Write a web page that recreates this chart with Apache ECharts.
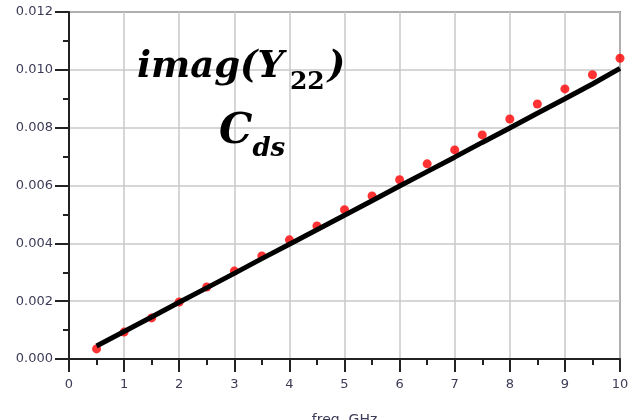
<!DOCTYPE html>
<html><head><meta charset="utf-8">
<script src="https://cdn.jsdelivr.net/npm/echarts@6/dist/echarts.min.js"></script>
<style>html,body{margin:0;padding:0;background:#fff}#c{width:630px;height:420px}</style>
</head><body><div id="c"></div>
<script>
var freq = [0.5,1,1.5,2,2.5,3,3.5,4,4.5,5,5.5,6,6.5,7,7.5,8,8.5,9,9.5,10];
var measured = [0.00035,0.00093,0.00142,0.00197,0.00249,0.00304,0.00356,0.00412,0.0046,0.00516,0.00564,0.0062,0.00675,0.00723,0.00775,0.0083,0.00882,0.00934,0.00983,0.0104];
var model = [0.00045,0.00095,0.00145,0.00196,0.00246,0.00296,0.00347,0.00397,0.00447,0.00497,0.00547,0.00598,0.00648,0.00698,0.00749,0.00799,0.00850,0.00900,0.00951,0.01005];
var xTicks = [0,1,2,3,4,5,6,7,8,9,10];
var yTicks = ['0.000','0.002','0.004','0.006','0.008','0.010','0.012'];

var chart = echarts.init(document.getElementById('c'));
var lblColor = '#3c3c58';
var serif = 'DejaVu Serif';
chart.setOption({
  animation:false,
  grid:{left:69,right:10,top:12,bottom:61,show:true,borderColor:'#333',borderWidth:1.5,backgroundColor:'#fff',containLabel:false,outerBoundsMode:'none'},
  title:[{
    left:132, top:44,
    text:'{a|imag(Y}{b|22}{a|)}',
    textStyle:{rich:{
      a:{fontFamily:serif,fontStyle:'italic',fontWeight:'bold',fontSize:37,color:'#000',verticalAlign:'bottom'},
      b:{fontFamily:serif,fontWeight:'bold',fontSize:25,color:'#000',verticalAlign:'bottom',padding:[0,3,-9,6]}
    }}
  },{
    left:214, top:106,
    text:'{a|C}{b|ds}',
    textStyle:{rich:{
      a:{fontFamily:serif,fontStyle:'italic',fontWeight:'bold',fontSize:42,color:'#000',verticalAlign:'bottom'},
      b:{fontFamily:serif,fontStyle:'italic',fontWeight:'bold',fontSize:26,color:'#000',verticalAlign:'bottom',padding:[0,0,-9,0]}
    }}
  }],
  xAxis:{
    type:'value',min:0,max:10,interval:1,
    name:'freq, GHz',nameLocation:'middle',nameGap:54,
    nameTextStyle:{fontFamily:'DejaVu Sans',fontSize:14,color:lblColor,verticalAlign:'top'},
    axisLine:{show:true,onZero:false,lineStyle:{color:'#222',width:2}},
    axisTick:{show:true,inside:false,length:13,lineStyle:{color:'#222',width:2}},
    minorTick:{show:true,splitNumber:2,length:6,lineStyle:{color:'#222',width:2}},
    axisLabel:{fontFamily:'DejaVu Sans',fontSize:13,color:lblColor,margin:19,
      formatter:function(v){return xTicks.indexOf(v)>=0?String(v):'';}},
    splitLine:{show:true,lineStyle:{color:'#c8c8c8',width:1.5}}
  },
  yAxis:{
    type:'value',min:0,max:0.012,interval:0.002,
    axisLine:{show:true,onZero:false,lineStyle:{color:'#222',width:2}},
    axisTick:{show:true,inside:false,length:14,lineStyle:{color:'#222',width:2}},
    minorTick:{show:true,splitNumber:2,length:6,lineStyle:{color:'#222',width:2}},
    axisLabel:{fontFamily:'DejaVu Sans',fontSize:13,color:lblColor,margin:16,
      formatter:function(v){return yTicks[Math.round(v/0.002)];}},
    splitLine:{show:true,lineStyle:{color:'#c8c8c8',width:1.5}}
  },
  series:[{
    type:'line',data:freq.map(function(f,i){return [f,model[i]];}),
    showSymbol:false,lineStyle:{color:'#000',width:5},z:3
  },{
    type:'scatter',data:freq.map(function(f,i){return [f,measured[i]];}),
    symbol:'circle',symbolSize:9,itemStyle:{color:'#ff0000'},z:2
  }]
});
</script></body></html>
